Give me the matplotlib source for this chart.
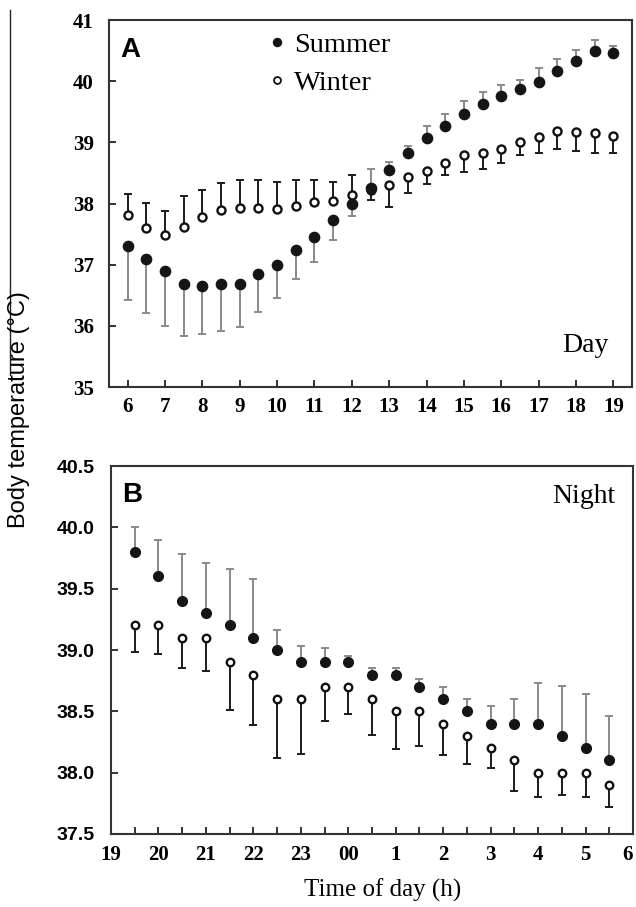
import numpy as np
import matplotlib
matplotlib.use('Agg')
import matplotlib.pyplot as plt
from matplotlib.lines import Line2D

# ---- data ----
# panel A, day (half-hourly)
day_hours = [6, 6.5, 7, 7.5, 8, 8.5, 9, 9.5, 10, 10.5, 11, 11.5, 12, 12.5,
             13, 13.5, 14, 14.5, 15, 15.5, 16, 16.5, 17, 17.5, 18, 18.5, 19]
summer_day = [37.30, 37.09, 36.90, 36.69, 36.65, 36.69, 36.69, 36.84, 36.99,
              37.24, 37.46, 37.73, 37.99, 38.25, 38.55, 38.82, 39.07, 39.27,
              39.46, 39.62, 39.75, 39.88, 39.99, 40.17, 40.33, 40.49, 40.46]
summer_day_bar = [36.42, 36.21, 35.99, 35.84, 35.86, 35.91, 35.98, 36.22, 36.46,
                  36.76, 37.04, 37.41, 37.79, 38.56, 38.68, 38.94, 39.27, 39.46,
                  39.68, 39.82, 39.94, 40.02, 40.22, 40.36, 40.51, 40.68, 40.58]
winter_day = [37.81, 37.60, 37.49, 37.62, 37.78, 37.90, 37.93, 37.92, 37.91,
              37.96, 38.03, 38.04, 38.14, 38.22, 38.30, 38.44, 38.54, 38.66,
              38.79, 38.83, 38.89, 39.01, 39.09, 39.19, 39.17, 39.15, 39.11]
winter_day_bar = [38.16, 38.01, 37.88, 38.12, 38.22, 38.34, 38.39, 38.39, 38.36,
                  38.38, 38.38, 38.35, 38.47, 38.05, 37.95, 38.17, 38.32, 38.46,
                  38.51, 38.56, 38.66, 38.79, 38.83, 38.89, 38.86, 38.83, 38.83]
day_ticks = [6, 7, 8, 9, 10, 11, 12, 13, 14, 15, 16, 17, 18, 19]
day_yticks = [35, 36, 37, 38, 39, 40, 41]

# panel B, night (hours after 24 are next morning)
night_hours = [19.5, 20, 20.5, 21, 21.5, 22, 22.5, 23, 23.5, 24, 24.5,
               25, 25.5, 26, 26.5, 27, 27.5, 28, 28.5, 29, 29.5]
summer_night = [39.8, 39.6, 39.4, 39.3, 39.2, 39.1, 39.0, 38.9, 38.9, 38.9, 38.8,
                38.8, 38.7, 38.6, 38.5, 38.4, 38.4, 38.4, 38.3, 38.2, 38.1]
summer_night_bar = [40.0, 39.9, 39.78, 39.71, 39.66, 39.58, 39.16, 39.03, 39.02, 38.95, 38.85,
                    38.85, 38.76, 38.70, 38.60, 38.54, 38.60, 38.73, 38.71, 38.64, 38.46]
winter_night = [39.2, 39.2, 39.1, 39.1, 38.9, 38.8, 38.6, 38.6, 38.7, 38.7, 38.6,
                38.5, 38.5, 38.4, 38.3, 38.2, 38.1, 38.0, 38.0, 38.0, 37.9]
winter_night_bar = [38.98, 38.97, 38.85, 38.83, 38.51, 38.39, 38.12, 38.15, 38.42, 38.48, 38.31,
                    38.19, 38.22, 38.14, 38.07, 38.04, 37.85, 37.80, 37.82, 37.80, 37.72]
night_ticks = [19, 20, 21, 22, 23, 24, 25, 26, 27, 28, 29, 30]
night_labels = ['19', '20', '21', '22', '23', '00', '1', '2', '3', '4', '5', '6']
night_yticks = [37.5, 38.0, 38.5, 39.0, 39.5, 40.0, 40.5]

serif = 'Liberation Serif'
sans = 'Liberation Sans'
spine_col = '#333333'


def one_sided(vals, ends):
    # error bars are drawn on one side only, to the bar end
    vals = np.array(vals)
    ends = np.array(ends)
    return [np.clip(vals - ends, 0, None), np.clip(ends - vals, 0, None)]


def draw_series(ax, x, summer, summer_bar, winter, winter_bar, big):
    ax.errorbar(x, winter, yerr=one_sided(winter, winter_bar), fmt='none',
                ecolor='#1a1a1a', elinewidth=1.4, capsize=3.2, capthick=1.4, zorder=2)
    ax.plot(x, winter, 'o', ls='none', ms=big - 1.6, mfc='white', mec='#111111',
            mew=1.7, zorder=3)
    ax.errorbar(x, summer, yerr=one_sided(summer, summer_bar), fmt='none',
                ecolor='#8a8a8a', elinewidth=1.4, capsize=3.2, capthick=1.4, zorder=4)
    ax.plot(x, summer, 'o', ls='none', ms=big, mfc='#151515', mec='#151515',
            zorder=5)


def style_axes(ax):
    for s in ax.spines.values():
        s.set_linewidth(1.5)
        s.set_color(spine_col)
    ax.tick_params(direction='in', length=5, width=1.4, color=spine_col)


fig = plt.figure(figsize=(6.36, 9.07), dpi=100)

# ---- panel A ----
axA = fig.add_axes([0.1714, 0.5733, 0.8223, 0.4046])
draw_series(axA, day_hours, summer_day, summer_day_bar, winter_day, winter_day_bar, 7.4)
axA.set_xlim(5.5, 19.5)
axA.set_ylim(35, 41)
axA.set_xticks(day_ticks)
axA.set_yticks(day_yticks)
style_axes(axA)
axA.tick_params(axis='y', pad=11)
axA.tick_params(axis='x', pad=7)
for lab in axA.get_xticklabels() + axA.get_yticklabels():
    lab.set_fontfamily(serif)
    lab.set_fontweight('bold')
    lab.set_fontsize(15)

axA.text(0.021, 0.899, 'A', transform=axA.transAxes, fontfamily=sans,
         fontweight='bold', fontsize=20, va='baseline')
axA.text(0.866, 0.095, 'Day', transform=axA.transAxes, fontfamily=serif,
         fontsize=20, va='baseline')

handles = [Line2D([], [], ls='none', marker='o', ms=5.8, mfc='#151515', mec='#151515'),
           Line2D([], [], ls='none', marker='o', ms=5.0, mfc='white', mec='#111111', mew=1.3)]
axA.legend(handles, ['Summer', 'Winter'], loc='upper left', bbox_to_anchor=(0.30, 0.966),
           frameon=False, handlelength=0.8, handletextpad=0.2, labelspacing=0.4,
           borderpad=0, borderaxespad=0, prop={'family': serif, 'size': 20.5})

# ---- panel B ----
axB = fig.add_axes([0.1745, 0.0805, 0.8208, 0.4057])
draw_series(axB, night_hours, summer_night, summer_night_bar, winter_night, winter_night_bar, 7.0)
axB.set_xlim(19, 30)
axB.set_ylim(37.5, 40.5)
axB.set_xticks(night_ticks)
axB.set_xticklabels(night_labels)
axB.set_xticks(night_hours, minor=True)
axB.set_yticks(night_yticks)
axB.set_yticklabels(['%.1f' % v for v in night_yticks])
style_axes(axB)
axB.tick_params(which='minor', direction='in', length=5, width=1.4, color=spine_col)
axB.tick_params(axis='y', pad=12)
axB.tick_params(axis='x', pad=8)
for lab in axB.get_xticklabels():
    lab.set_fontfamily(serif)
    lab.set_fontweight('bold')
    lab.set_fontsize(15)
# the last label sits just inside the right edge, as in the print
axB.get_xticklabels()[-1].set_horizontalalignment('right')
for lab in axB.get_yticklabels():
    lab.set_fontfamily(sans)
    lab.set_fontweight('bold')
    lab.set_fontsize(14)

axB.text(0.021, 0.902, 'B', transform=axB.transAxes, fontfamily=sans,
         fontweight='bold', fontsize=20, va='baseline')
axB.text(0.845, 0.899, 'Night', transform=axB.transAxes, fontfamily=serif,
         fontsize=20, va='baseline')

# shared axis titles
fig.text(383 / 636, 1 - 890 / 907, 'Time of day (h)', fontfamily=serif, fontsize=18,
         ha='center', va='center')
fig.text(19 / 636, 1 - 410 / 907, 'Body temperature (\u00b0C)', fontfamily=sans,
         fontsize=17, rotation=90, ha='center', va='center')
# thin rule at the left edge of the scan
fig.add_artist(Line2D([10 / 636, 10 / 636], [1 - 10 / 907, 1 - 375 / 907],
                      transform=fig.transFigure, color='#222222', lw=1.0))

fig.savefig('out.png', dpi=100)
